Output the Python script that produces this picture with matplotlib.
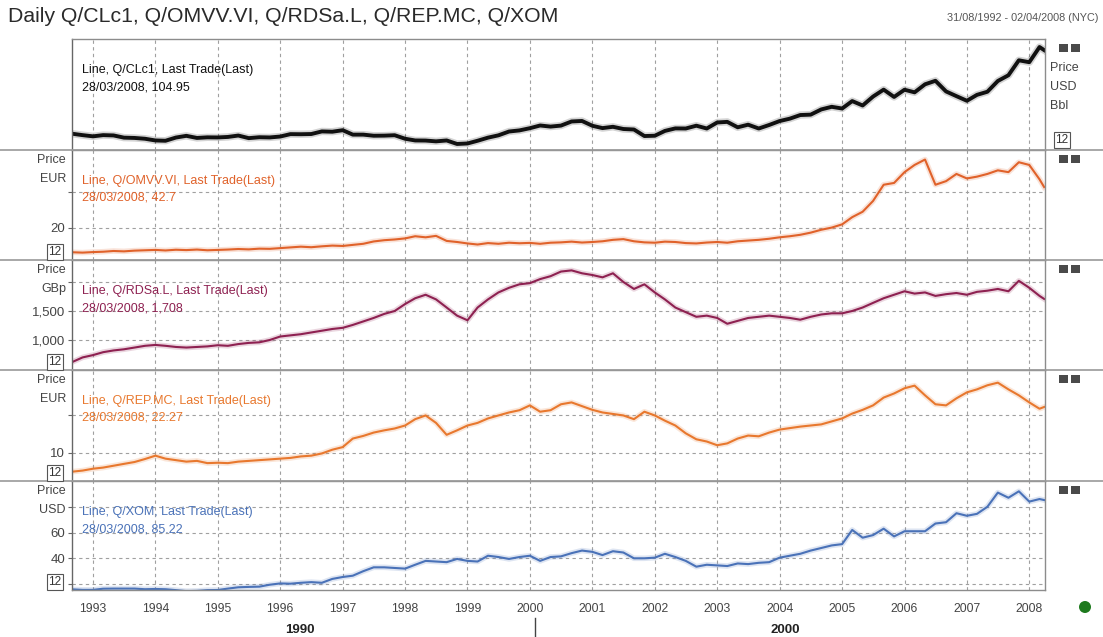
import numpy as np
import pandas as pd
import matplotlib
matplotlib.use("Agg")
import matplotlib.pyplot as plt
import matplotlib.dates as mdates
from matplotlib.lines import Line2D
from matplotlib.patches import Rectangle, Ellipse

plt.rcParams['font.family'] = ['Liberation Sans', 'DejaVu Sans']

W, H = 1103, 637

# bimonthly sample dates (Sep 1992 .. Mar 2008) plus the last trade date
dates = list(pd.date_range('1992-09-01', '2008-03-01', freq='2MS')) + [pd.Timestamp('2008-03-28')]

# Q/CLc1 (USD/Bbl)
oil = [21.7, 20.3,
       19.1, 20.3, 20.0, 17.8, 17.5, 16.7,
       15.0, 14.7, 17.9, 19.6, 17.5, 18.1,
       18.0, 18.5, 19.9, 17.3, 18.2, 18.0,
       18.9, 21.3, 21.2, 21.4, 24.0, 23.7,
       25.2, 20.8, 20.8, 19.7, 19.8, 20.2,
       16.7, 15.0, 14.9, 14.1, 15.0, 11.5,
       12.0, 14.7, 17.8, 20.1, 23.9, 25.0,
       27.2, 29.9, 28.8, 29.8, 33.9, 34.4,
       29.6, 27.3, 28.6, 26.4, 25.9, 19.4,
       19.7, 24.5, 27.0, 26.9, 29.7, 26.9,
       32.9, 33.5, 28.1, 30.7, 26.9, 30.4,
       34.3, 36.7, 40.3, 40.7, 45.9, 48.5,
       46.8, 54.2, 49.8, 58.7, 65.6, 58.3,
       65.5, 62.9, 70.9, 74.4, 63.8, 59.1,
       54.5, 60.4, 63.5, 74.2, 79.9, 94.8,
       92.9, 108.0, 104.95]

# Q/OMVV.VI (EUR)
omv = [6.5, 6.3,
       6.6, 6.8, 7.2, 7.0, 7.4, 7.6,
       7.8, 7.5, 7.9, 7.7, 8.0, 7.6,
       7.8, 8.0, 8.3, 8.1, 8.5, 8.4,
       8.8, 9.2, 9.6, 9.3, 9.8, 10.2,
       10.0, 10.6, 11.2, 12.5, 13.2, 13.6,
       14.2, 15.4, 14.8, 15.6, 12.8, 12.2,
       11.4, 10.8, 11.6, 11.2, 11.8, 11.5,
       11.7, 11.2, 11.8, 12.0, 12.4, 11.9,
       12.2, 12.6, 13.4, 13.8, 12.6, 12.0,
       11.8, 12.4, 12.2, 11.6, 11.4, 11.9,
       12.2, 11.8, 12.6, 13.0, 13.4, 14.0,
       14.8, 15.4, 16.2, 17.4, 19.0, 20.2,
       22.0, 26.0, 29.0, 35.0, 44.0, 45.0,
       51.0, 55.0, 58.0, 44.0, 46.0, 50.0,
       47.5, 48.5, 50.0, 52.0, 51.0, 56.5,
       55.0, 47.0, 42.7]

# Q/RDSa.L (GBp)
rds = [620, 700,
       740, 790, 820, 840, 870, 900,
       915, 900, 880, 870, 880, 890,
       910, 900, 930, 950, 960, 1000,
       1060, 1080, 1100, 1130, 1160, 1190,
       1210, 1260, 1320, 1380, 1450, 1500,
       1620, 1720, 1780, 1700, 1560, 1420,
       1340, 1560, 1700, 1820, 1900, 1960,
       1980, 2050, 2100, 2180, 2200, 2150,
       2120, 2080, 2150, 2000, 1880, 1960,
       1820, 1700, 1560, 1480, 1400, 1420,
       1380, 1280, 1330, 1380, 1400, 1420,
       1400, 1380, 1350, 1400, 1440, 1460,
       1460, 1500, 1560, 1640, 1720, 1780,
       1840, 1800, 1820, 1760, 1790, 1810,
       1780, 1830, 1850, 1880, 1840, 2020,
       1900, 1760, 1708]

# Q/REP.MC (EUR)
rep = [4.9, 5.2,
       5.7, 6.0, 6.5, 7.0, 7.5, 8.3,
       9.2, 8.4, 8.0, 7.6, 7.8, 7.2,
       7.3, 7.2, 7.6, 7.8, 8.0, 8.2,
       8.4, 8.6, 9.0, 9.2, 9.8, 10.8,
       11.5, 13.8, 14.5, 15.4, 16.0, 16.5,
       17.3, 19.0, 20.0, 18.0, 14.8, 16.0,
       17.3, 18.0, 19.2, 20.0, 20.8, 21.4,
       22.7, 21.0, 21.4, 23.0, 23.5, 22.5,
       21.5, 20.8, 20.4, 20.0, 19.0, 21.0,
       20.0, 18.6, 17.3, 15.2, 13.6, 13.0,
       12.0, 12.5, 13.8, 14.6, 14.4, 15.4,
       16.2, 16.6, 17.0, 17.3, 17.6, 18.4,
       19.2, 20.5, 21.5, 22.7, 24.8, 25.9,
       27.3, 28.0, 25.4, 23.0, 22.7, 24.6,
       26.2, 27.0, 28.1, 28.8, 27.0, 25.4,
       23.5, 21.8, 22.27]

# Q/XOM (USD)
xom = [15.9, 15.5,
       15.5, 16.4, 16.5, 16.5, 16.5, 16.0,
       16.2, 16.0, 15.3, 14.5, 14.7, 15.3,
       15.4, 16.5, 17.5, 17.8, 18.0, 19.5,
       20.5, 20.3, 21.0, 21.5, 21.0, 24.0,
       25.5, 26.5, 30.0, 33.0, 33.0, 32.5,
       32.0, 35.0, 38.0, 37.5, 37.0, 39.5,
       38.0, 37.5, 42.0, 41.0, 39.5, 41.0,
       42.0, 38.0, 41.0, 41.5, 44.0, 46.0,
       45.0, 42.5, 45.5, 44.5, 40.0, 40.0,
       40.5, 43.5, 41.0, 38.0, 33.5, 35.0,
       34.5, 34.0, 36.0, 35.5, 36.5, 37.0,
       40.5, 42.0, 43.5, 46.0, 48.0, 50.0,
       51.0, 62.0, 56.0, 58.0, 63.0, 57.0,
       61.0, 61.0, 61.0, 67.0, 68.0, 75.0,
       73.0, 74.5, 80.0, 91.0, 87.0, 92.0,
       84.0, 86.0, 85.22]

series = [
    dict(vals=oil, color='#111111', lw=2.8, name='Line, Q/CLc1, Last Trade(Last)', last='28/03/2008, 104.95',
         ylim=(5.5, 116), ticks=[], labels=[], unit='USD', box=(39, 150)),
    dict(vals=omv, color='#e0622a', lw=1.5, name='Line, Q/OMVV.VI, Last Trade(Last)', last='28/03/2008, 42.7',
         ylim=(2.2, 63.3), ticks=[20, 40], labels=['20', ''], unit='EUR', box=(150, 260)),
    dict(vals=rds, color='#8e2151', lw=1.5, name='Line, Q/RDSa.L, Last Trade(Last)', last='28/03/2008, 1,708',
         ylim=(483, 2379), ticks=[1000, 1500, 2000], labels=['1,000', '1,500', ''], unit='GBp', box=(260, 370)),
    dict(vals=rep, color='#e8782e', lw=1.5, name='Line, Q/REP.MC, Last Trade(Last)', last='28/03/2008, 22.27',
         ylim=(2.4, 32.2), ticks=[10, 20], labels=['10', ''], unit='EUR', box=(370, 481)),
    dict(vals=xom, color='#4a72b8', lw=1.5, name='Line, Q/XOM, Last Trade(Last)', last='28/03/2008, 85.22',
         ylim=(15.4, 100), ticks=[20, 40, 60, 80], labels=['', '40', '60', ''], unit='USD', box=(481, 590)),
]

fig = plt.figure(figsize=(W / 100, H / 100), dpi=100)
fig.patch.set_facecolor('white')

X0, X1 = 72, 1045
frame = '#8c8c8c'
grid_kw = dict(color='#a0a0a0', linestyle=(0, (3, 3)), linewidth=0.8)
txt = 9.0

def fx(px):
    return px / W

def fy(py):
    return 1 - py / H

axes = []
for i, s in enumerate(series):
    top, bot = s['box']
    ax = fig.add_axes([fx(X0), fy(bot), fx(X1) - fx(X0), (bot - top) / H])
    ax.plot(dates, s['vals'], color=s['color'], lw=s['lw'] + 2.5, alpha=0.18, solid_joinstyle='round')
    ax.plot(dates, s['vals'], color=s['color'], lw=s['lw'], solid_joinstyle='round')
    ax.set_xlim(pd.Timestamp('1992-08-31'), pd.Timestamp('2008-04-02'))
    ax.set_ylim(*s['ylim'])
    ax.xaxis.set_major_locator(mdates.YearLocator())
    ax.xaxis.set_major_formatter(mdates.DateFormatter('%Y'))
    ax.grid(True, axis='x', **grid_kw)
    ax.set_yticks(s['ticks'])
    ax.set_yticklabels(s['labels'])
    if s['ticks']:
        ax.grid(True, axis='y', **grid_kw)
    ax.tick_params(axis='y', length=3, color='#666', labelsize=9.5, labelcolor='#444', pad=2)
    ax.tick_params(axis='x', length=0, labelsize=8.8, labelcolor='#444', pad=9)
    if i < len(series) - 1:
        ax.tick_params(axis='x', labelbottom=False)
    for sp in ax.spines.values():
        sp.set_color(frame)
        sp.set_linewidth(1.0)
    ax.spines['left'].set_color('#666')
    ax.set_axisbelow(True)

    # legend text
    fig.text(fx(82), fy(top + 31), s['name'], color=s['color'], fontsize=txt, va='center')
    fig.text(fx(82), fy(top + 48), s['last'], color=s['color'], fontsize=txt, va='center')

    # unit labels and "12" box
    if i == 0:
        for k, t in enumerate(['Price', 'USD', 'Bbl']):
            fig.text(fx(1050), fy(68 + 19 * k), t, fontsize=txt, color='#444', va='center')
        fig.text(fx(1062), fy(140), '12', fontsize=8.5, color='#333', ha='center', va='center',
                 bbox=dict(boxstyle='square,pad=0.15', fc='white', ec='#555', lw=0.8))
    else:
        fig.text(fx(66), fy(top + 10), 'Price', fontsize=txt, color='#444', ha='right', va='center')
        fig.text(fx(66), fy(top + 29), s['unit'], fontsize=txt, color='#444', ha='right', va='center')
        fig.text(fx(55), fy(bot - 8), '12', fontsize=8.5, color='#333', ha='center', va='center',
                 bbox=dict(boxstyle='square,pad=0.15', fc='white', ec='#555', lw=0.8))

    # window buttons
    for bx in (1059, 1071):
        fig.add_artist(Rectangle((fx(bx), fy(top + 13)), 9 / W, 8 / H, transform=fig.transFigure,
                                 fc='#4a4a4a', ec='none'))
    axes.append(ax)

# panel separators across the full width
for py in (150, 260, 370, 481):
    fig.add_artist(Line2D([0, 1], [fy(py), fy(py)], transform=fig.transFigure, color='#9a9a9a', lw=1.2))

# titles
fig.text(fx(8), fy(16), 'Daily Q/CLc1, Q/OMVV.VI, Q/RDSa.L, Q/REP.MC, Q/XOM',
         fontsize=15.3, color='#2a2a2a', va='center')
fig.text(fx(1098), fy(18), '31/08/1992 - 02/04/2008 (NYC)', fontsize=7.8, color='#555',
         ha='right', va='center')

# decade labels
fig.text(fx(300), fy(630), '1990', fontsize=9.5, fontweight='bold', color='#222', ha='center', va='center')
fig.text(fx(785), fy(630), '2000', fontsize=9.5, fontweight='bold', color='#222', ha='center', va='center')
fig.add_artist(Line2D([fx(535), fx(535)], [fy(618), fy(637)], transform=fig.transFigure, color='#444', lw=1))

# status dot
fig.add_artist(Ellipse((fx(1085), fy(607)), 12 / W, 12 / H, transform=fig.transFigure,
                       fc='#1e7a1e', ec='none'))

fig.savefig('out.png', dpi=100)
